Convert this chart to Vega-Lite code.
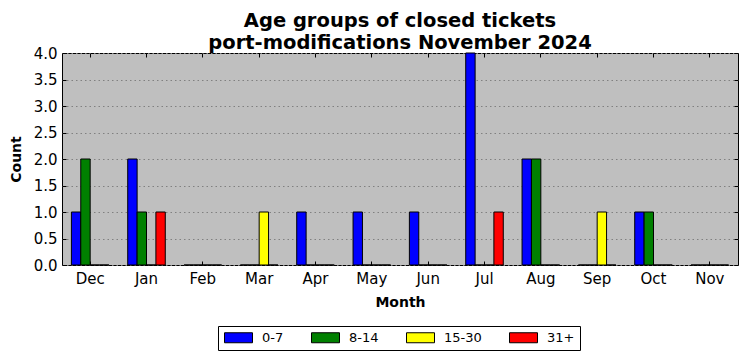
{
  "$schema": "https://vega.github.io/schema/vega-lite/v6.json",
  "autosize": "none",
  "width": 676,
  "height": 212,
  "padding": {"left": 62, "top": 53, "right": 9, "bottom": 96},
  "background": "white",
  "title": {
    "text": ["Age groups of closed tickets", "port-modifications November 2024"],
    "font": "DejaVu Sans",
    "fontSize": 19.5,
    "fontWeight": "bold",
    "color": "black",
    "anchor": "middle",
    "lineHeight": 22,
    "offset": 5,
    "dy": 58
  },
  "config": {
    "view": {"fill": "#bfbfbf", "stroke": "black", "strokeWidth": 1},
    "font": "DejaVu Sans"
  },
  "data": {
    "values": [
      {"month": "Dec", "group": "0-7", "count": 1},
      {"month": "Dec", "group": "8-14", "count": 2},
      {"month": "Dec", "group": "15-30", "count": 0},
      {"month": "Dec", "group": "31+", "count": 0},
      {"month": "Jan", "group": "0-7", "count": 2},
      {"month": "Jan", "group": "8-14", "count": 1},
      {"month": "Jan", "group": "15-30", "count": 0},
      {"month": "Jan", "group": "31+", "count": 1},
      {"month": "Feb", "group": "0-7", "count": 0},
      {"month": "Feb", "group": "8-14", "count": 0},
      {"month": "Feb", "group": "15-30", "count": 0},
      {"month": "Feb", "group": "31+", "count": 0},
      {"month": "Mar", "group": "0-7", "count": 0},
      {"month": "Mar", "group": "8-14", "count": 0},
      {"month": "Mar", "group": "15-30", "count": 1},
      {"month": "Mar", "group": "31+", "count": 0},
      {"month": "Apr", "group": "0-7", "count": 1},
      {"month": "Apr", "group": "8-14", "count": 0},
      {"month": "Apr", "group": "15-30", "count": 0},
      {"month": "Apr", "group": "31+", "count": 0},
      {"month": "May", "group": "0-7", "count": 1},
      {"month": "May", "group": "8-14", "count": 0},
      {"month": "May", "group": "15-30", "count": 0},
      {"month": "May", "group": "31+", "count": 0},
      {"month": "Jun", "group": "0-7", "count": 1},
      {"month": "Jun", "group": "8-14", "count": 0},
      {"month": "Jun", "group": "15-30", "count": 0},
      {"month": "Jun", "group": "31+", "count": 0},
      {"month": "Jul", "group": "0-7", "count": 4},
      {"month": "Jul", "group": "8-14", "count": 0},
      {"month": "Jul", "group": "15-30", "count": 0},
      {"month": "Jul", "group": "31+", "count": 1},
      {"month": "Aug", "group": "0-7", "count": 2},
      {"month": "Aug", "group": "8-14", "count": 2},
      {"month": "Aug", "group": "15-30", "count": 0},
      {"month": "Aug", "group": "31+", "count": 0},
      {"month": "Sep", "group": "0-7", "count": 0},
      {"month": "Sep", "group": "8-14", "count": 0},
      {"month": "Sep", "group": "15-30", "count": 1},
      {"month": "Sep", "group": "31+", "count": 0},
      {"month": "Oct", "group": "0-7", "count": 1},
      {"month": "Oct", "group": "8-14", "count": 1},
      {"month": "Oct", "group": "15-30", "count": 0},
      {"month": "Oct", "group": "31+", "count": 0},
      {"month": "Nov", "group": "0-7", "count": 0},
      {"month": "Nov", "group": "8-14", "count": 0},
      {"month": "Nov", "group": "15-30", "count": 0},
      {"month": "Nov", "group": "31+", "count": 0}
    ]
  },
  "layer": [
    {
      "mark": {"type": "bar", "stroke": "black", "strokeWidth": 1, "opacity": 1},
      "encoding": {
        "x": {
          "field": "month",
          "type": "nominal",
          "sort": ["Dec", "Jan", "Feb", "Mar", "Apr", "May", "Jun", "Jul", "Aug", "Sep", "Oct", "Nov"],
          "scale": {"paddingInner": 0.3333, "paddingOuter": 0.1667},
          "axis": {
            "orient": "bottom",
            "title": "Month",
            "titleFont": "DejaVu Sans",
            "titleFontSize": 14,
            "titleFontWeight": "bold",
            "titleColor": "black",
            "titlePadding": 9,
            "labelFont": "DejaVu Sans",
            "labelFontSize": 15,
            "labelColor": "black",
            "labelAngle": 0,
            "labelPadding": 10,
            "bandPosition": 0.5,
            "tickSize": -4,
            "tickColor": "black",
            "domain": false,
            "grid": false
          }
        },
        "xOffset": {
          "field": "group",
          "type": "nominal",
          "sort": ["0-7", "8-14", "15-30", "31+"],
          "scale": {"paddingInner": 0, "paddingOuter": 0}
        },
        "y": {
          "field": "count",
          "type": "quantitative",
          "scale": {"domain": [0, 4], "nice": false},
          "axis": {
            "orient": "left",
            "title": "Count",
            "titleFont": "DejaVu Sans",
            "titleFontSize": 14,
            "titleFontWeight": "bold",
            "titleColor": "black",
            "titlePadding": 10,
            "labelFont": "DejaVu Sans",
            "labelFontSize": 15,
            "labelColor": "black",
            "labelPadding": 9,
            "values": [0, 0.5, 1, 1.5, 2, 2.5, 3, 3.5, 4],
            "format": ".1f",
            "tickSize": -4,
            "tickColor": "black",
            "domain": false,
            "grid": true,
            "gridColor": "#808080",
            "gridDash": [1.5, 3],
            "gridWidth": 1
          }
        },
        "color": {
          "field": "group",
          "type": "nominal",
          "sort": ["0-7", "8-14", "15-30", "31+"],
          "scale": {
            "domain": ["0-7", "8-14", "15-30", "31+"],
            "range": ["#0000ff", "#008000", "#ffff00", "#ff0000"]
          },
          "legend": {
            "orient": "none",
            "legendX": 156,
            "legendY": 273,
            "direction": "horizontal",
            "title": null,
            "fillColor": "white",
            "strokeColor": "black",
            "padding": 5,
            "symbolType": "M-1,-1h5.6v2h-5.6z",
            "symbolSize": 100,
            "symbolStrokeColor": "black",
            "symbolStrokeWidth": 1,
            "symbolOpacity": 1,
            "labelFont": "DejaVu Sans",
            "labelFontSize": 13,
            "labelColor": "black",
            "labelOffset": 26,
            "columnPadding": 25
          }
        }
      }
    },
    {
      "mark": {"type": "bar", "opacity": 0},
      "encoding": {
        "x": {
          "field": "month",
          "type": "nominal",
          "sort": ["Dec", "Jan", "Feb", "Mar", "Apr", "May", "Jun", "Jul", "Aug", "Sep", "Oct", "Nov"],
          "axis": {
            "orient": "top",
            "title": null,
            "labels": false,
            "bandPosition": 0.5,
            "tickSize": -4,
            "tickColor": "black",
            "domain": false,
            "grid": false,
            "maxExtent": 0,
            "minExtent": 0
          }
        },
        "y": {
          "field": "count",
          "type": "quantitative",
          "axis": {
            "orient": "right",
            "title": null,
            "labels": false,
            "values": [0, 0.5, 1, 1.5, 2, 2.5, 3, 3.5, 4],
            "tickSize": -4,
            "tickColor": "black",
            "domain": false,
            "grid": false,
            "maxExtent": 0,
            "minExtent": 0
          }
        }
      }
    }
  ],
  "resolve": {"axis": {"x": "independent", "y": "independent"}}
}
